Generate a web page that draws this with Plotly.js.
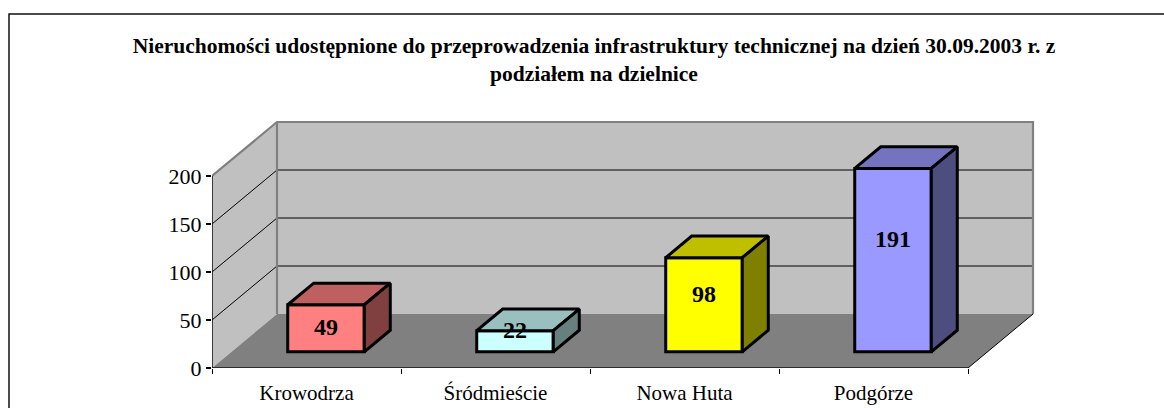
<!DOCTYPE html>
<html><head><meta charset="utf-8">
<script src="https://cdn.plot.ly/plotly-3.0.1.min.js"></script>
<style>html,body{margin:0;padding:0;background:#fff}</style></head>
<body><div id="chart" style="width:1164px;height:408px"></div>
<script>
const categories = ["Krowodrza", "Śródmieście", "Nowa Huta", "Podgórze"];
const values = [49, 22, 98, 191];
const frontColors = ["#ff8080", "#ccffff", "#ffff00", "#9999ff"];
const topColors = ["#bf6060", "#99bfbf", "#bfbf00", "#7373bf"];
const sideColors = ["#804040", "#668080", "#808000", "#4d4d80"];
const yTicks = [0, 50, 100, 150, 200];
const labelLift = [0, 10, 10, 20];
const titleText = "Nieruchomości udostępnione do przeprowadzenia infrastruktury technicznej na dzień 30.09.2003 r. z<br>podziałem na dzielnice";

const W = 1164, H = 408;
const px = {left: 212, bottom: 368, catW: 189, perUnit: 0.96, depthX: 65, depthY: 54, top: 110, right: 1045};
const dX = px.depthX / px.catW, dY = px.depthY / px.perUnit;
const barW = 0.405, barDepth = 0.4, barFront = 0.3;
const n = categories.length;
const xMax = (px.right - px.left) / px.catW, yMax = (px.bottom - px.top) / px.perUnit;
const FONT = "Liberation Serif, Times New Roman, serif";
const paperX = p => (p - px.left) / (px.right - px.left);
const paperY = p => (px.bottom - p) / (px.bottom - px.top);

const poly = (pts, fill) => ({type: "path", layer: "below", xref: "x", yref: "y",
  path: "M" + pts.map(p => p[0] + "," + p[1]).join("L") + "Z", fillcolor: fill, line: {width: 0}});
const seg = (pts, color, width) => ({type: "path", layer: "below", xref: "x", yref: "y",
  path: "M" + pts.map(p => p[0] + "," + p[1]).join("L"), line: {color, width}});

const yTop = yTicks[yTicks.length - 1];
const shapes = [
  {type: "path", xref: "paper", yref: "paper", layer: "below",
    path: `M${paperX(9)},${paperY(H)}L${paperX(9)},${paperY(14)}L${paperX(W)},${paperY(14)}`,
    line: {color: "#111", width: 1.5}},
  poly([[0, 0], [dX, dY], [dX, yTop + dY], [0, yTop]], "#c0c0c0"),
  poly([[dX, dY], [n + dX, dY], [n + dX, yTop + dY], [dX, yTop + dY]], "#c0c0c0"),
  poly([[0, 0], [n, 0], [n + dX, dY], [dX, dY]], "#808080"),
];
yTicks.slice(1, -1).forEach(v => shapes.push(seg([[0, v], [dX, v + dY], [n + dX, v + dY]], "#000", 1)));
shapes.push(seg([[0, yTop], [dX, yTop + dY], [n + dX, yTop + dY], [n + dX, dY]], "#808080", 2.2));
shapes.push(seg([[dX, yTop + dY], [dX, dY]], "#808080", 2.2));
shapes.push(seg([[n, 0], [n + dX, dY]], "#000", 1));

const centers = categories.map((_, i) => i + 0.5);
const frontX = centers.map(c => c + barFront * dX);
const base = barFront * dY;
const traces = [{
  type: "bar", x: frontX, y: values, base: base, width: barW,
  marker: {color: frontColors, line: {color: "#000", width: 3}}, hoverinfo: "skip"
}];
values.forEach((v, i) => {
  const l = frontX[i] - barW / 2, r = frontX[i] + barW / 2;
  const ox = barDepth * dX, oy = barDepth * dY, t = base + v;
  const face = (pts, c) => traces.push({type: "scatter", mode: "lines", fill: "toself", fillcolor: c,
    x: pts.map(p => p[0]), y: pts.map(p => p[1]), line: {color: "#000", width: 3}, hoverinfo: "skip"});
  face([[l, t], [r, t], [r + ox, t + oy], [l + ox, t + oy], [l, t]], topColors[i]);
  face([[r, base], [r + ox, base + oy], [r + ox, t + oy], [r, t], [r, base]], sideColors[i]);
});
traces.push({type: "scatter", mode: "lines", cliponaxis: false, x: [0, 0, n], y: [yTop, 0, 0],
  line: {color: "#111", width: 1.5}, hoverinfo: "skip"});
traces.push({type: "scatter", mode: "text", x: frontX, y: values.map((v, i) => base + v / 2 + labelLift[i] - 0.5),
  text: values.map(String), textposition: "middle center", cliponaxis: false,
  textfont: {family: FONT, size: 24, color: "#000", weight: 700}, hoverinfo: "skip"});

const layout = {
  width: W, height: H, showlegend: false, paper_bgcolor: "#fff", plot_bgcolor: "rgba(0,0,0,0)",
  margin: {l: px.left, r: W - px.right, t: px.top, b: H - px.bottom, pad: 0},
  font: {family: FONT, color: "#000"},
  title: {text: titleText, font: {family: FONT, size: 21.5, weight: 700, color: "#000"},
    x: 594/W, xanchor: "center", y: 1 - 53/H, yanchor: "middle"},
  xaxis: {range: [0, xMax], showgrid: false, zeroline: false, showline: false, fixedrange: true,
    tickmode: "array", tickvals: centers, ticktext: categories, ticks: "", ticklen: 0,
    ticklabelstandoff: 10, tickfont: {family: FONT, size: 21, color: "#000"},
    minor: {tickmode: "array", tickvals: categories.map((_, i) => i).concat([n]), ticks: "outside", ticklen: 5, tickcolor: "#000", tickwidth: 1, showgrid: false}},
  yaxis: {range: [0, yMax], showgrid: false, zeroline: false, showline: false, fixedrange: true,
    tickmode: "array", tickvals: yTicks, ticks: "outside", ticklen: 5, tickcolor: "#000", tickwidth: 1.5,
    ticklabelstandoff: 0, tickfont: {family: FONT, size: 22, color: "#000"}},
  shapes: shapes
};
Plotly.newPlot("chart", traces, layout, {displayModeBar: false, staticPlot: true});
</script></body></html>
